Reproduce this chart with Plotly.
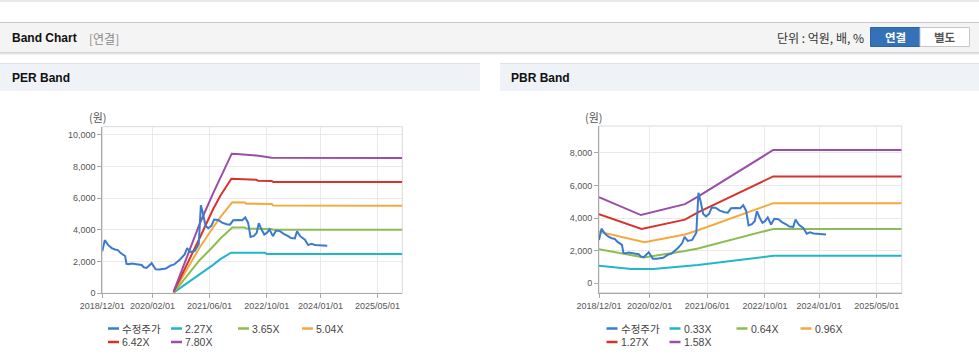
import plotly.graph_objects as go

W, H = 979, 361

# ---------------- data ----------------
price_name = "수정주가"
price_dates = ["2018-12-01", "2018-12-22", "2019-01-19", "2019-02-19", "2019-03-19", "2019-04-13",
               "2019-05-04", "2019-05-28", "2019-06-13", "2019-06-25", "2019-07-16", "2019-08-07",
               "2019-09-01", "2019-10-07", "2019-11-01", "2019-11-19", "2019-12-13", "2020-01-25",
               "2020-02-13", "2020-02-28", "2020-04-01", "2020-05-01", "2020-05-25", "2020-06-13",
               "2020-07-07", "2020-08-04", "2020-09-01", "2020-09-25", "2020-11-01", "2020-11-22",
               "2020-12-19", "2021-01-25", "2021-03-01", "2021-03-19", "2021-04-07", "2021-04-28",
               "2021-05-22", "2021-06-16", "2021-07-10", "2021-08-13", "2021-09-16", "2021-10-25",
               "2021-11-22", "2021-12-19", "2022-02-01", "2022-03-07", "2022-04-01", "2022-04-25",
               "2022-05-16", "2022-06-13", "2022-07-07", "2022-07-25", "2022-08-19", "2022-09-10",
               "2022-10-04", "2022-10-25", "2022-11-22", "2022-12-19", "2023-01-22", "2023-02-22",
               "2023-04-01", "2023-04-25", "2023-05-28", "2023-06-16", "2023-07-13", "2023-08-22",
               "2023-09-19", "2023-10-16", "2023-11-16", "2023-12-28", "2024-01-25", "2024-02-28"]
price_values = [2650, 3350, 3050, 2850, 2760, 2720,
                2550, 2400, 2350, 1860, 1840, 1880,
                1860, 1820, 1780, 1640, 1600, 1900,
                1650, 1510, 1500, 1520, 1560, 1650,
                1760, 1820, 2000, 2150, 2450, 2850,
                2600, 2660, 3100, 5550, 5000, 4250,
                4100, 4250, 4650, 4620, 4450, 4350,
                4330, 4600, 4620, 4600, 4780, 4450,
                3550, 3620, 3800, 4420, 4000, 3700,
                3820, 4030, 3600, 3950, 3920, 3750,
                3600, 3480, 3460, 3910, 3600, 3380,
                3040, 3120, 3050, 3040, 3010, 2990]

# PER bands
per_227_dates = ["2020-07-30", "2020-11-19", "2021-03-10", "2021-07-01", "2021-09-01", "2021-12-01",
                 "2022-09-15", "2022-10-01", "2025-11-28"]
per_227_values = [40, 630, 1160, 1790, 2150, 2560, 2550, 2480, 2480]
per_365_dates = ["2020-07-30", "2020-11-19", "2021-03-10", "2021-07-01", "2021-09-01", "2021-12-12",
                 "2022-03-28", "2022-04-10", "2022-11-12", "2022-11-25", "2025-11-28"]
per_365_values = [50, 1050, 2100, 2950, 3450, 4150, 4140, 4080, 4060, 4010, 4000]
per_504_dates = ["2020-07-30", "2020-11-19", "2021-03-10", "2021-07-01", "2021-09-01", "2021-12-12",
                 "2022-03-28", "2022-04-10", "2022-11-12", "2022-11-25", "2025-11-28"]
per_504_values = [60, 1500, 2900, 4150, 4800, 5740, 5730, 5650, 5630, 5540, 5520]
per_642_dates = ["2020-07-30", "2020-11-19", "2021-03-10", "2021-07-01", "2021-09-01", "2021-12-04",
                 "2022-03-28", "2022-04-10", "2022-07-06", "2022-07-20", "2022-11-12", "2022-11-25",
                 "2025-11-28"]
per_642_values = [80, 1750, 3500, 5300, 6150, 7220, 7200, 7160, 7150, 7090, 7080, 7020, 7010]
per_780_dates = ["2020-07-30", "2020-11-19", "2021-03-10", "2021-07-01", "2021-09-01", "2021-12-07",
                 "2022-01-20", "2022-03-28", "2022-07-06", "2022-11-12", "2025-11-28"]
per_780_values = [100, 2300, 4400, 6300, 7300, 8800, 8780, 8740, 8680, 8550, 8530]
per_band_names = ["2.27X", "3.65X", "5.04X", "6.42X", "7.80X"]

# PBR bands
pbr_033_dates = ["2018-12-01", "2019-09-01", "2020-03-01", "2020-11-25", "2021-03-15", "2022-12-10", "2025-11-28"]
pbr_033_values = [1070, 880, 880, 1040, 1120, 1680, 1680]
pbr_064_dates = ["2018-12-01", "2019-12-15", "2020-11-25", "2021-03-15", "2022-12-10", "2025-11-28"]
pbr_064_values = [2090, 1580, 1980, 2130, 3330, 3330]
pbr_096_dates = ["2018-12-01", "2019-12-20", "2020-11-25", "2021-03-15", "2022-12-10", "2025-11-28"]
pbr_096_values = [3160, 2510, 2990, 3250, 4910, 4900]
pbr_127_dates = ["2018-12-01", "2019-11-25", "2020-11-25", "2021-03-15", "2022-12-10", "2025-11-28"]
pbr_127_values = [4230, 3330, 3900, 4350, 6550, 6550]
pbr_158_dates = ["2018-12-01", "2019-11-20", "2020-11-25", "2021-03-15", "2022-12-10", "2025-11-28"]
pbr_158_values = [5270, 4180, 4850, 5310, 8165, 8165]
pbr_band_names = ["0.33X", "0.64X", "0.96X", "1.27X", "1.58X"]

x_tick_dates = ["2018-12-01", "2020-02-01", "2021-06-01", "2022-10-01", "2024-01-01", "2025-05-01"]
x_tick_labels = ["2018/12/01", "2020/02/01", "2021/06/01", "2022/10/01", "2024/01/01", "2025/05/01"]
x_range = ["2018-12-01", "2025-11-28"]
per_y_ticks = [0, 2000, 4000, 6000, 8000, 10000]
pbr_y_ticks = [0, 2000, 4000, 6000, 8000]

colors = ["#3b7bcc", "#22b6c8", "#8dbd52", "#f5a93c", "#d8332b", "#9a4ea6"]

FONT = "Liberation Sans, Arial, Noto Sans CJK KR, sans-serif"
KFONT = "Noto Sans CJK KR, Liberation Sans, sans-serif"


def px(x):
    return x / W


def py(y):
    return 1 - y / H


fig = go.Figure()

per_series = [(price_name, price_dates, price_values),
              (per_band_names[0], per_227_dates, per_227_values),
              (per_band_names[1], per_365_dates, per_365_values),
              (per_band_names[2], per_504_dates, per_504_values),
              (per_band_names[3], per_642_dates, per_642_values),
              (per_band_names[4], per_780_dates, per_780_values)]
pbr_series = [(price_name, price_dates, price_values),
              (pbr_band_names[0], pbr_033_dates, pbr_033_values),
              (pbr_band_names[1], pbr_064_dates, pbr_064_values),
              (pbr_band_names[2], pbr_096_dates, pbr_096_values),
              (pbr_band_names[3], pbr_127_dates, pbr_127_values),
              (pbr_band_names[4], pbr_158_dates, pbr_158_values)]

draw_order = [1, 2, 3, 4, 5, 0]
for i in draw_order:
    name, d, v = per_series[i]
    fig.add_trace(go.Scatter(x=d, y=v, name=name, mode="lines", xaxis="x", yaxis="y",
                             line=dict(color=colors[i], width=2), showlegend=False))
for i in draw_order:
    name, d, v = pbr_series[i]
    fig.add_trace(go.Scatter(x=d, y=v, name=name, mode="lines", xaxis="x2", yaxis="y2",
                             line=dict(color=colors[i], width=2), showlegend=False))

axis_common = dict(showline=True, linecolor="#a8a8a8", linewidth=1, ticks="outside",
                   ticklen=4, tickcolor="#a8a8a8", showgrid=True, gridcolor="#e9e9e9",
                   zeroline=False, automargin=False,
                   tickfont=dict(family=FONT, size=9, color="#555"))

fig.update_layout(
    template="none",
    width=W, height=H, autosize=False,
    margin=dict(l=0, r=0, t=0, b=0, pad=0, autoexpand=False),
    paper_bgcolor="white", plot_bgcolor="white",
    showlegend=False,
    xaxis=dict(domain=[px(102.3), px(402.3)], anchor="y", type="date", range=x_range,
               tickvals=x_tick_dates, ticktext=x_tick_labels, **axis_common),
    yaxis=dict(domain=[py(293.3), py(126.7)], anchor="x", range=[0, 10500],
               tickvals=per_y_ticks, tickformat=",d", **axis_common),
    xaxis2=dict(domain=[px(599), px(901.7)], anchor="y2", type="date", range=x_range,
                tickvals=x_tick_dates, ticktext=x_tick_labels, **axis_common),
    yaxis2=dict(domain=[py(292.7), py(126)], anchor="x2", range=[-576, 9636],
                tickvals=pbr_y_ticks, tickformat=",d", **axis_common),
)

shapes = []
annotations = []

# plot border (top / right light frame)
for xr, yr in [("x domain", "y domain"), ("x2 domain", "y2 domain")]:
    shapes.append(dict(type="rect", xref=xr, yref=yr, x0=0, x1=1, y0=0, y1=1,
                       line=dict(color="#dadada", width=1), layer="below"))

# page furniture
shapes.append(dict(type="line", xref="paper", yref="paper", x0=0, x1=1, y0=py(1), y1=py(1),
                   line=dict(color="#e8e8e8", width=2)))
shapes.append(dict(type="rect", xref="paper", yref="paper", x0=0, x1=1, y0=py(52), y1=py(22.5),
                   fillcolor="#f4f4f4", line=dict(width=0), layer="below"))
shapes.append(dict(type="line", xref="paper", yref="paper", x0=0, x1=1, y0=py(22.5), y1=py(22.5),
                   line=dict(color="#c8c8c8", width=1)))
for yy, c in [(52.5, "#d6d6d6"), (53.5, "#e4e4e4"), (54.5, "#f0f0f0")]:
    shapes.append(dict(type="line", xref="paper", yref="paper", x0=0, x1=1, y0=py(yy), y1=py(yy),
                       line=dict(color=c, width=1)))
for x0, x1 in [(0, 480), (500, 979)]:
    shapes.append(dict(type="rect", xref="paper", yref="paper", x0=px(x0), x1=px(x1),
                       y0=py(91), y1=py(63), fillcolor="#eff3f8", line=dict(width=0), layer="below"))
    shapes.append(dict(type="line", xref="paper", yref="paper", x0=px(x0), x1=px(x1),
                       y0=py(63.5), y1=py(63.5), line=dict(color="#dde1e6", width=1)))
# buttons
shapes.append(dict(type="rect", xref="paper", yref="paper", x0=px(870.5), x1=px(920),
                   y0=py(46.5), y1=py(27.5), fillcolor="#3571b6", line=dict(color="#2d64a5", width=1)))
shapes.append(dict(type="rect", xref="paper", yref="paper", x0=px(920), x1=px(969.5),
                   y0=py(46.5), y1=py(27.5), fillcolor="#ffffff", line=dict(color="#c6c6c6", width=1)))


def text(x, y, s, size=11, color="#333", family=FONT, anchor="left"):
    annotations.append(dict(xref="paper", yref="paper", x=px(x), y=py(y), text=s, showarrow=False,
                            xanchor=anchor, yanchor="middle", borderpad=0,
                            font=dict(family=family, size=size, color=color)))


text(11, 37.5, "<b>Band Chart</b>", size=12, color="#111")
text(88, 38, "[연결]", size=12, color="#8a8a8a", family=KFONT)
text(865, 37.5, "단위 : 억원, 배, %", size=12, color="#333", family=KFONT, anchor="right")
text(895.2, 37, "<b>연결</b>", size=11.5, color="#ffffff", family=KFONT, anchor="center")
text(944.7, 37, "<b>별도</b>", size=11.5, color="#555555", family=KFONT, anchor="center")
text(11, 78, "<b>PER Band</b>", size=12, color="#111")
text(510, 78, "<b>PBR Band</b>", size=12, color="#111")
text(97.5, 117, "(원)", size=11, color="#555", family=KFONT, anchor="center")
text(594, 117, "(원)", size=11, color="#555", family=KFONT, anchor="center")

# legends (custom, compact like the original)
legend_cols = [108, 171, 238, 302]
legend_rows = [328.5, 342]
for series, dx in [(per_series, 0), (pbr_series, 498.5)]:
    for k, (name, _, _) in enumerate(series):
        r, c = divmod(k, 4)
        x0 = legend_cols[c] + dx
        y0 = legend_rows[r]
        shapes.append(dict(type="line", xref="paper", yref="paper", x0=px(x0), x1=px(x0 + 11),
                           y0=py(y0), y1=py(y0), line=dict(color=colors[k], width=2.5)))
        text(x0 + 13, y0, name, size=10.5, color="#444", family=KFONT if k == 0 else FONT)

fig.update_layout(shapes=shapes, annotations=annotations)

fig.write_html("out.html", config={"displayModeBar": False},
               post_script="document.body.style.margin='0';document.body.style.overflow='hidden';")
